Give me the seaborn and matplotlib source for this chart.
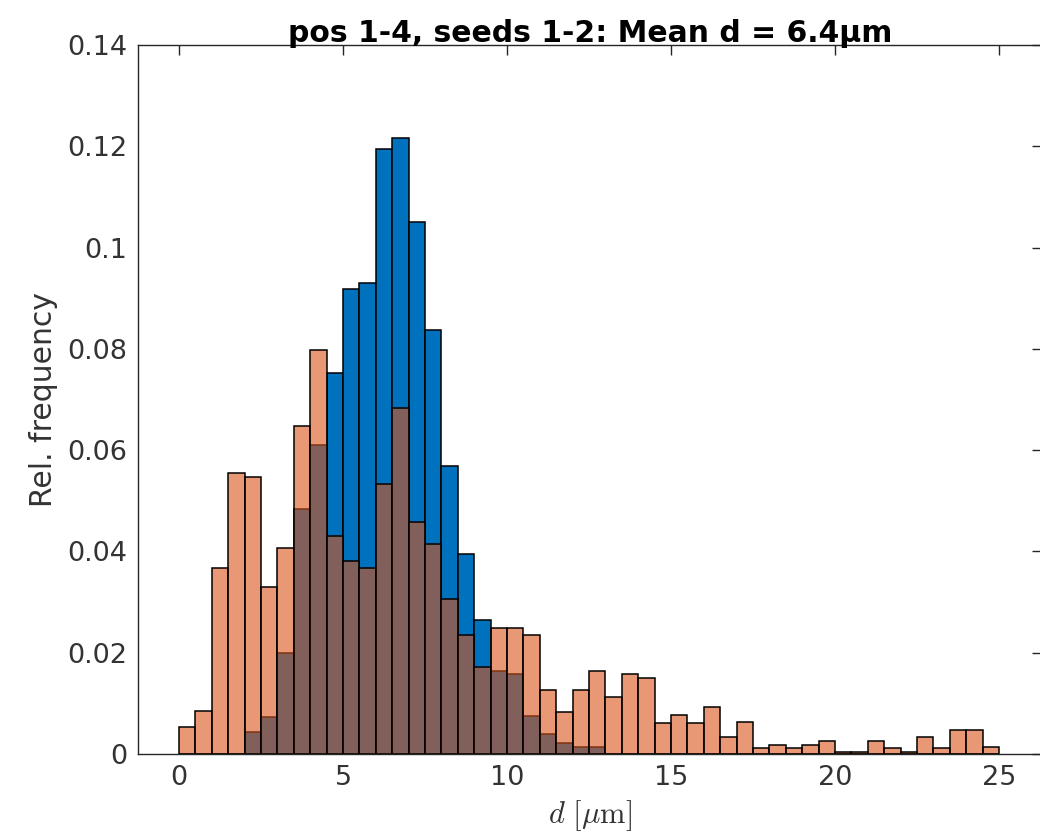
import numpy as np
import pandas as pd
import matplotlib
matplotlib.use("Agg")
import matplotlib.pyplot as plt
import seaborn as sns

# ---- data (relative frequencies per 0.5 um bin, 0..25 um) ----
bin_edges = [i * 0.5 for i in range(51)]
blue_freq = [0, 0, 0, 0, 0.0043, 0.0073, 0.0199, 0.0484, 0.0610, 0.0752,
             0.0919, 0.0930, 0.1194, 0.1216, 0.1051, 0.0838, 0.0568, 0.0395, 0.0264, 0.0164,
             0.0157, 0.0076, 0.0040, 0.0021, 0.0014, 0.0014, 0, 0, 0, 0,
             0, 0, 0, 0, 0, 0, 0, 0, 0, 0,
             0, 0, 0, 0, 0, 0, 0, 0, 0, 0]
orange_freq = [0.0054, 0.0084, 0.0367, 0.0554, 0.0547, 0.0330, 0.0407, 0.0647, 0.0797, 0.0430,
               0.0381, 0.0367, 0.0533, 0.0683, 0.0459, 0.0414, 0.0307, 0.0234, 0.0171, 0.0248,
               0.0248, 0.0234, 0.0127, 0.0082, 0.0127, 0.0164, 0.0112, 0.0157, 0.0150, 0.0062,
               0.0077, 0.0062, 0.0092, 0.0033, 0.0063, 0.0011, 0.0018, 0.0011, 0.0018, 0.0026,
               0.0003, 0.0003, 0.0026, 0.0011, 0.0003, 0.0033, 0.0011, 0.0048, 0.0048, 0.0013]
x_ticks = [0, 5, 10, 15, 20, 25]
y_ticks = [0, 0.02, 0.04, 0.06, 0.08, 0.10, 0.12, 0.14]
y_ticklabels = ["0", "0.02", "0.04", "0.06", "0.08", "0.1", "0.12", "0.14"]
title_text = "pos 1-4, seeds 1-2: Mean d = 6.4\u00b5m"
xlabel_text = r"$d\ [\mu\mathrm{m}]$"
ylabel_text = "Rel. frequency"

centers = [(bin_edges[i] + bin_edges[i + 1]) / 2 for i in range(len(bin_edges) - 1)]
df = pd.DataFrame({"d": centers, "blue": blue_freq, "orange": orange_freq})

sns.set_theme(style="white")
plt.rcParams["font.family"] = ["DejaVu Sans"]
plt.rcParams["mathtext.fontset"] = "cm"

BLUE = (0.0, 0.447, 0.741)
ORANGE = (0.85, 0.325, 0.098)
AXC = "#262626"
TXC = "#333333"

fig = plt.figure(figsize=(10.4, 8.34), dpi=100)
ax = fig.add_axes([138 / 1040, 80 / 834, 904 / 1040, 709 / 834])

sns.histplot(data=df, x="d", weights="blue", bins=bin_edges, stat="count",
             color=BLUE, edgecolor="black", linewidth=1.1, ax=ax)
n_blue = len(ax.patches)
sns.histplot(data=df, x="d", weights="orange", bins=bin_edges, stat="count",
             color=ORANGE, edgecolor="black", linewidth=1.1, ax=ax)
for p in ax.patches[:n_blue]:
    p.set_alpha(None)
    p.set_facecolor(BLUE + (1.0,))
    p.set_edgecolor((0, 0, 0, 1))
for p in ax.patches[n_blue:]:
    p.set_alpha(None)
    p.set_facecolor(ORANGE + (0.6,))
    p.set_edgecolor((0, 0, 0, 1))

ax.set_xlim(-1.25, 26.31)
ax.set_ylim(0, 0.14)
ax.set_xticks(x_ticks)
ax.set_xticklabels([str(t) for t in x_ticks])
ax.set_yticks(y_ticks)
ax.set_yticklabels(y_ticklabels)

ax.tick_params(axis="both", direction="in", length=7, width=1.0, colors=AXC,
               labelsize=19.5, top=True, right=True, pad=8)
ax.tick_params(axis="both", labelcolor=TXC)
for s in ax.spines.values():
    s.set_visible(True)
    s.set_color(AXC)
    s.set_linewidth(1.0)

ax.set_xlabel(xlabel_text, fontsize=22, color=TXC, labelpad=5)
ax.set_ylabel(ylabel_text, fontsize=21.5, color=TXC, labelpad=6)
ax.set_title(title_text, fontsize=21.5, fontweight="bold", color="black", pad=2)

fig.savefig("out.png", dpi=100)
